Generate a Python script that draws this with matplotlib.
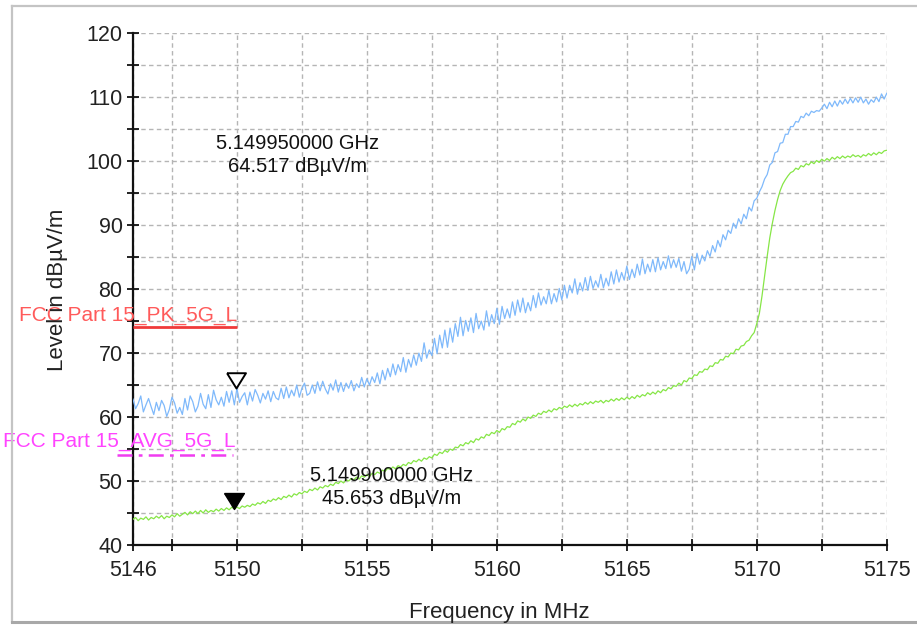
import numpy as np
import matplotlib
matplotlib.use("Agg")
import matplotlib.pyplot as plt
from matplotlib.lines import Line2D

plt.rcParams['font.family'] = ['Liberation Sans', 'DejaVu Sans']

# ---- measured traces, 0.1 MHz steps from 5146.0 to 5175.0 MHz ----
f_start, f_stop = 5146.0, 5175.0

peak_trace = [
    62.8, 61.3, 62.1, 63.3, 60.8, 61.9, 62.9, 61.6, 60.4, 62.3,
    61.0, 62.6, 61.8, 60.1, 61.2, 63.1, 62.2, 60.6, 61.5, 60.4,
    62.9, 61.1, 63.3, 62.4, 60.8, 61.7, 63.7, 62.0, 61.3, 63.5,
    61.5, 64.2, 62.7, 61.9, 63.1, 61.7, 64.0, 62.3, 64.1, 61.9,
    64.5, 62.3, 63.2, 63.8, 61.9, 63.9, 62.5, 64.3, 63.4, 62.2,
    63.7, 62.8, 64.1, 62.4, 64.0, 63.0, 62.7, 64.5, 62.9, 64.7,
    63.0, 64.2, 63.3, 65.0, 63.1, 64.5, 65.3, 63.4, 63.7, 65.0,
    63.7, 65.5, 64.1, 65.6, 64.4, 63.6, 65.2, 64.2, 65.8, 63.9,
    65.4, 64.0, 65.3, 64.5, 65.7, 64.1, 65.2, 64.6, 66.2, 64.7,
    66.0, 65.0, 66.3, 65.4, 66.9, 65.2, 67.3, 65.8, 67.6, 66.3,
    68.3, 66.6, 68.2, 67.1, 69.3, 67.0, 69.0, 67.8, 69.7, 68.1,
    70.0, 68.7, 71.6, 69.2, 70.5, 69.6, 72.3, 69.9, 72.8, 70.8,
    73.6, 70.9, 73.9, 71.7, 74.6, 72.6, 75.6, 72.7, 75.1, 73.4,
    75.5, 73.2, 76.2, 73.8, 75.0, 73.6, 76.6, 74.2, 76.0, 74.6,
    77.0, 74.5, 77.3, 75.4, 76.9, 75.5, 78.0, 75.9, 78.3, 76.4,
    78.6, 76.3, 77.9, 76.6, 79.0, 77.1, 79.4, 77.5, 78.8, 77.7,
    79.8, 77.7, 79.3, 78.0, 80.1, 78.3, 80.6, 78.6, 80.6, 79.4,
    81.6, 79.2, 81.0, 79.7, 81.8, 79.8, 82.0, 80.1, 81.3, 80.3,
    82.3, 80.2, 81.7, 80.5, 82.7, 80.8, 83.0, 81.1, 82.6, 81.4,
    83.6, 81.5, 83.1, 81.8, 83.9, 82.2, 84.7, 82.4, 83.9, 82.7,
    84.6, 82.7, 84.9, 83.0, 84.3, 83.2, 85.2, 83.3, 84.6, 83.4,
    84.8, 82.8, 84.3, 82.4, 83.1, 85.1, 83.0, 85.6, 83.9, 85.3,
    84.4, 86.0, 85.1, 86.8, 85.8, 87.6, 86.6, 88.5, 87.7, 89.2,
    88.7, 90.3, 89.5, 91.0, 90.2, 91.7, 91.0, 92.8, 92.2, 93.8,
    94.2, 95.2, 96.0, 97.2, 97.9, 99.4, 99.8, 101.3, 101.5, 102.8,
    102.9, 104.2, 104.2, 105.4, 105.4, 106.2, 106.1, 107.0, 106.8, 107.5,
    107.1, 107.8, 107.6, 107.9, 107.8, 108.3, 108.9, 108.2, 109.2, 108.5,
    109.4, 108.6, 109.5, 108.9, 109.7, 109.0, 109.8, 109.1, 109.9, 109.2,
    110.0, 109.1, 109.7, 108.9, 109.6, 109.2, 110.0, 109.3, 110.5, 109.7,
    110.6,
]

avg_trace = [
    44.0, 44.3, 43.8, 44.2, 44.0, 44.4, 43.9, 44.3, 44.1, 44.5,
    44.2, 44.6, 44.1, 44.5, 44.3, 44.7, 44.4, 44.9, 44.5, 44.8,
    45.1, 44.7, 45.2, 44.9, 45.3, 44.9, 45.4, 45.0, 45.5, 45.1,
    45.4, 45.2, 45.6, 45.3, 45.7, 45.4, 45.8, 45.5, 45.9, 45.65,
    45.9, 45.7, 46.1, 45.9, 46.2, 46.0, 46.4, 46.2, 46.6, 46.4,
    46.8, 46.5, 47.0, 46.8, 47.2, 47.0, 47.4, 47.1, 47.6, 47.4,
    47.8, 47.5, 48.0, 47.8, 48.2, 48.0, 48.4, 48.2, 48.7, 48.5,
    48.9, 48.6, 49.1, 48.9, 49.3, 49.1, 49.5, 49.3, 49.8, 49.6,
    50.0, 49.7, 50.2, 50.0, 50.4, 50.2, 50.6, 50.3, 50.8, 50.6,
    51.0, 50.7, 51.2, 51.0, 51.4, 51.2, 51.7, 51.5, 52.0, 51.8,
    52.2, 51.9, 52.4, 52.2, 52.6, 52.4, 52.9, 52.7, 53.2, 53.0,
    53.4, 53.1, 53.6, 53.4, 53.8, 53.6, 54.2, 54.0, 54.5, 54.3,
    54.8, 54.5, 55.0, 54.8, 55.3, 55.2, 55.7, 55.5, 56.0, 55.8,
    56.3, 56.0, 56.6, 56.4, 56.9, 56.7, 57.3, 57.1, 57.6, 57.4,
    57.9, 57.6, 58.2, 58.0, 58.5, 58.4, 59.0, 58.8, 59.4, 59.2,
    59.7, 59.4, 60.0, 59.8, 60.3, 60.1, 60.6, 60.4, 60.9, 60.7,
    61.1, 60.8, 61.3, 61.1, 61.5, 61.3, 61.7, 61.5, 61.9, 61.6,
    62.0, 61.7, 62.1, 61.9, 62.3, 62.0, 62.4, 62.1, 62.5, 62.3,
    62.6, 62.2, 62.6, 62.4, 62.8, 62.5, 62.9, 62.6, 63.0, 62.7,
    63.1, 62.8, 63.2, 62.9, 63.4, 63.1, 63.5, 63.3, 63.8, 63.5,
    63.9, 63.6, 64.1, 63.8, 64.3, 64.1, 64.6, 64.4, 64.9, 64.8,
    65.3, 65.0, 65.7, 65.5, 66.1, 66.0, 66.6, 66.5, 67.1, 67.0,
    67.5, 67.4, 68.0, 67.9, 68.5, 68.4, 69.0, 68.9, 69.5, 69.4,
    70.0, 69.9, 70.6, 70.5, 71.1, 71.2, 71.8, 72.0, 72.7, 73.2,
    74.6, 76.2, 78.9, 82.0, 85.1, 88.0, 90.3, 92.3, 94.0, 95.4,
    96.4, 97.1, 97.7, 98.2, 98.4, 98.9, 98.7, 99.3, 99.1, 99.6,
    99.4, 99.9, 99.6, 100.1, 99.8, 100.3, 100.0, 100.4, 100.1, 100.6,
    100.3, 100.7, 100.4, 100.8, 100.5, 100.8, 100.6, 101.0, 100.7, 100.9,
    100.6, 101.0, 100.8, 101.2, 100.9, 101.3, 101.0, 101.4, 101.2, 101.6,
    101.7,
]

# limit lines (dBµV/m) and their span (MHz)
pk_limit = 74.0
avg_limit = 54.0
limit_span = [5146.0, 5150.0]

# marker readouts
pk_marker_f, pk_marker_v = 5149.95, 64.517
avg_marker_f, avg_marker_v = 5149.90, 45.653

x_major = [5146, 5150, 5155, 5160, 5165, 5170, 5175]
x_minor = [5147.5, 5152.5, 5157.5, 5162.5, 5167.5, 5172.5]
y_major = [40, 50, 60, 70, 80, 90, 100, 110, 120]
y_minor = [45, 55, 65, 75, 85, 95, 105, 115]

freq = np.linspace(f_start, f_stop, len(peak_trace))

fig = plt.figure(figsize=(9.17, 6.26), dpi=100)
ax = fig.add_axes([0.145, 0.1294, 0.822, 0.8176])

ax.plot(freq, peak_trace, color='#7fb9fb', lw=0.9, zorder=3)
ax.plot(freq, avg_trace, color='#86e646', lw=0.9, zorder=3)

# limit lines
ax.plot(limit_span, [pk_limit, pk_limit], color='#f03a3a', lw=2.0, zorder=4,
        solid_capstyle='butt')
ax.plot([limit_span[0] - 0.6, limit_span[1] - 0.15], [avg_limit, avg_limit],
        color='#f03cf0', lw=1.8, ls=(0, (6, 2.5, 1.5, 2.5)), zorder=4,
        clip_on=False)
ax.text(limit_span[1] + 0.02, pk_limit + 1.1, 'FCC Part 15_PK_5G_L',
        color='#ff5a5a', fontsize=15, ha='right', va='baseline',
        zorder=5, clip_on=False)
ax.text(limit_span[1] - 0.05, avg_limit + 1.3, 'FCC Part 15_AVG_5G_L',
        color='#ff44ff', fontsize=15, ha='right', va='baseline',
        zorder=5, clip_on=False)

# markers: triangle with its tip on the readout point
tri = [(-0.62, 1.0), (0.62, 1.0), (0.0, 0.0), (-0.62, 1.0)]
ax.plot([pk_marker_f], [pk_marker_v], marker=tri, ms=22, mfc='white',
        mec='black', mew=1.4, ls='none', zorder=6)
ax.plot([avg_marker_f], [avg_marker_v], marker=tri, ms=23, mfc='black',
        mec='black', mew=1.0, ls='none', zorder=6)

ax.text(5152.35, 101.0,
        f'{pk_marker_f / 1000:.9f} GHz\n{pk_marker_v:.3f} dBµV/m',
        ha='center', va='center', multialignment='center',
        fontsize=14.5, color='#111111', linespacing=1.25, zorder=7)
ax.text(5155.95, 49.1,
        f'{avg_marker_f / 1000:.9f} GHz\n{avg_marker_v:.3f} dBµV/m',
        ha='center', va='center', multialignment='center',
        fontsize=14.5, color='#111111', linespacing=1.25, zorder=7)

ax.set_xlim(f_start, f_stop)
ax.set_ylim(40, 120)
ax.set_xticks(x_major)
ax.set_xticks(x_minor, minor=True)
ax.set_yticks(y_major)
ax.set_yticks(y_minor, minor=True)
ax.set_xticklabels([str(v) for v in x_major])
ax.set_yticklabels([str(v) for v in y_major])

ax.grid(True, which='both', color='#b5b5b5', lw=1.0, ls=(0, (3.2, 2.4)),
        zorder=1)
for side in ('top', 'right'):
    ax.spines[side].set_visible(False)
for side in ('left', 'bottom'):
    ax.spines[side].set_linewidth(1.6)
    ax.spines[side].set_color('#111111')

ax.tick_params(which='both', direction='inout', length=9, width=1.3,
               color='#111111', labelsize=15.5, labelcolor='#222222')
ax.tick_params(axis='x', which='major', pad=6)
ax.tick_params(axis='y', which='major', pad=3)

fig.text(0.544, 0.022, 'Frequency in MHz', ha='center', va='center',
         fontsize=16, color='#222222')
fig.text(0.063, 0.537, 'Level in dBµV/m', ha='center', va='center',
         rotation=90, fontsize=16, color='#222222')

# surrounding panel frame
frame_kw = dict(transform=fig.transFigure, color='#c4c4c4', lw=1.6)
W, H = 917.0, 626.0
fig.add_artist(Line2D([12 / W, 1.0], [1 - 6 / H, 1 - 6 / H], **frame_kw))
fig.add_artist(Line2D([12 / W, 12 / W], [1 - 6 / H, 1 - 622 / H], **frame_kw))
fig.add_artist(Line2D([12 / W, 1.0], [1 - 622 / H, 1 - 622 / H],
                      transform=fig.transFigure, color='#a8a8a8', lw=2.2))

fig.savefig('out.png', dpi=100)
